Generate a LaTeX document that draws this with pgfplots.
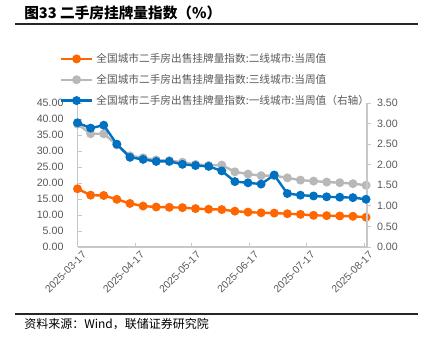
\documentclass[border=0pt]{standalone}
\usepackage{pgfplots}
\usepackage{pgfplotstable}
\pgfplotsset{compat=1.18}
\usepackage{fontspec}
\setmainfont{Liberation Sans}
\newfontfamily\cjk{Noto Sans CJK SC}
\definecolor{cOr}{RGB}{255,102,0}
\definecolor{cGr}{RGB}{184,184,184}
\definecolor{cBl}{RGB}{0,112,192}
\definecolor{cTx}{RGB}{89,89,89}
\definecolor{cAx}{RGB}{200,200,200}

\pgfplotstableread{
d o g
0 18.2 38.4
7 16.2 35.4
14 16.1 35.4
21 14.9 31.9
28 13.6 28.5
35 12.8 27.9
42 12.5 27.2
49 12.4 27.0
56 12.3 26.5
63 12.0 25.8
70 11.8 25.5
77 11.7 25.6
84 11.2 23.5
91 10.9 22.8
98 10.7 22.3
105 10.6 22.3
112 10.4 21.6
119 10.2 20.9
126 9.9 20.6
133 9.8 20.3
140 9.7 20.1
147 9.6 19.8
154 9.3 19.3
}\dataL

\pgfplotstableread{
d b
0 3.02
7 2.89
14 2.96
21 2.50
28 2.18
35 2.13
42 2.08
49 2.08
56 2.01
63 1.98
70 1.96
77 1.85
84 1.59
91 1.56
98 1.53
105 1.75
112 1.30
119 1.26
126 1.24
133 1.22
140 1.21
147 1.20
154 1.16
}\dataR

\pgfplotsset{
  common/.style={
    scale only axis, width=217.1pt, height=108pt,
    at={(58.125pt,67.5pt)}, anchor=south west,
    xmin=0, xmax=154.5,
    axis line style={cAx, line width=0.8pt},
    tick style={cAx, line width=0.6pt},
    major tick length=3pt,
    /pgf/number format/assume math mode=true,
    ticklabel style={font=\fontsize{8}{9}\selectfont, text=cTx},
    yticklabel style={/pgf/number format/fixed, /pgf/number format/fixed zerofill, /pgf/number format/precision=2},
  },
  ser/.style={line width=1.8pt, mark=*, mark size=2.4pt, #1, mark options={fill=#1, draw=#1}},
}

\begin{document}
\begin{tikzpicture}
\path[use as bounding box] (0pt,0pt) rectangle (324pt,252.75pt);

\node[anchor=west, font=\cjk\bfseries\fontsize{11}{12}\selectfont, inner sep=0pt] at (18pt,243pt) {图33 二手房挂牌量指数（\%）};
\draw[black!85, line width=0.8pt] (11.25pt,234.75pt) -- (313.5pt,234.75pt);
\draw[black!85, line width=0.8pt] (11.25pt,17.25pt) -- (313.5pt,17.25pt);
\node[anchor=west, font=\cjk\fontsize{9}{10}\selectfont, inner sep=0pt] at (18pt,9.75pt) {资料来源：Wind，联储证券研究院};

\begin{axis}[common,
  axis x line*=bottom, axis y line*=left,
  ymin=0, ymax=45, ytick={0,5,...,45},
  tick align=inside,
  xtick={0,31,61,92,122,153},
  xticklabels={2025-03-17,2025-04-17,2025-05-17,2025-06-17,2025-07-17,2025-08-17},
  xticklabel style={rotate=45, anchor=north east, font=\fontsize{7.8}{8}\selectfont, inner sep=1pt, xshift=1.5pt, yshift=-3pt},
  yticklabel style={xshift=-7pt},
]
\addplot[ser=cGr] table[x=d, y=g] {\dataL};
\addplot[ser=cOr] table[x=d, y=o] {\dataL};
\end{axis}

\begin{axis}[common,
  axis x line=none, axis y line*=right,
  ymin=0, ymax=3.5, ytick={0,0.5,...,3.5},
  tick align=outside,
  yticklabel style={xshift=1pt},
  legend style={at={(-0.075,1.365)}, anchor=north west, draw=none, fill=none,
    font=\cjk\fontsize{8}{9}\selectfont, text=cTx, row sep=7.3pt,
    nodes={inner xsep=2.5pt, inner ysep=0pt}},
  legend cell align=left,
  legend image code/.code={\draw[mark repeat=2, mark phase=2, #1] plot coordinates {(0pt,0pt) (11.5pt,0pt) (23pt,0pt)};},
]
\addlegendimage{ser=cOr}
\addlegendentry{全国城市二手房出售挂牌量指数:二线城市:当周值}
\addlegendimage{ser=cGr}
\addlegendentry{全国城市二手房出售挂牌量指数:三线城市:当周值}
\addplot[ser=cBl] table[x=d, y=b] {\dataR};
\addlegendentry{全国城市二手房出售挂牌量指数:一线城市:当周值（右轴）}
\end{axis}
\end{tikzpicture}
\end{document}
